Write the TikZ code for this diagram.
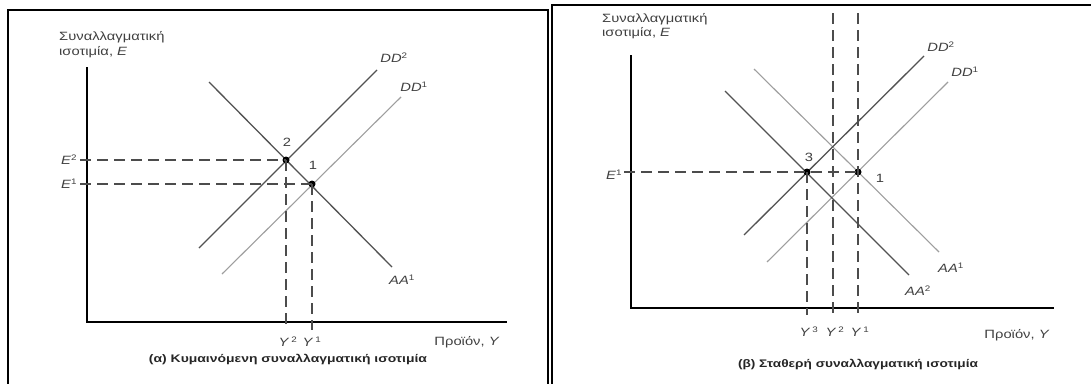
\documentclass[tikz,border=0pt]{standalone}
\usepackage{graphicx}
\usepackage{fontspec}
\setmainfont{Liberation Sans}[FakeStretch=1.23]
\newfontfamily\capfont{Liberation Sans}
\newcommand{\capwide}[2]{\resizebox{#1}{\height}{\capfont\bfseries #2}}
\begin{document}
\begin{tikzpicture}[x=1pt,y=-1pt,
  frame/.style={line width=2.4pt,black},
  axis/.style={line width=2pt,black},
  darkline/.style={line width=1.3pt,draw=black!68},
  lightline/.style={line width=1.1pt,draw=black!38},
  guide/.style={line width=1.2pt,draw=black!70,dash pattern=on 11pt off 6pt},
  dot/.style={circle,fill=black,inner sep=0pt,minimum size=7pt},
  lbl/.style={font=\fontsize{12}{14}\selectfont,text=black!75,inner sep=0pt},
  captxt/.style={font=\fontsize{11}{13}\selectfont,text=black!85,inner sep=0pt}]
\useasboundingbox (0,0) rectangle (1091,383);
\fill[white] (0,0) rectangle (1091,383);
% frames
\draw[frame] (8,384) -- (8,10) -- (548,10) -- (548,384);
\draw[frame] (552,384) -- (552,5) -- (1092,5);

% ---------- panel (a) ----------
\coordinate (aO) at (87,322);
\coordinate (aYt) at (87,67);
\coordinate (aXr) at (507,322);
\draw[axis] (aYt) -- (aO) -- (aXr);
\coordinate (aD2s) at (199,248); \coordinate (aD2e) at (377,70);
\coordinate (aD1s) at (222,274); \coordinate (aD1e) at (401,97);
\coordinate (aA1s) at (209,82);  \coordinate (aA1e) at (392,267);
\draw[lightline] (aD1s) -- (aD1e);
\draw[darkline] (aD2s) -- (aD2e);
\draw[darkline] (aA1s) -- (aA1e);
\node[dot] (p2) at (286,160) {};
\node[dot] (p1) at (312,184) {};
\coordinate (aE2l) at (80,160); \coordinate (aE1l) at (80,184);
\coordinate (aY2b) at (286,330); \coordinate (aY1b) at (312,330);
\draw[guide] (aE2l) -- (p2.center);
\draw[guide] (aE1l) -- (p1.center);
\draw[guide] (p2.center) -- (aY2b);
\draw[guide] (p1.center) -- (aY1b);
\node[lbl,anchor=west] (atitle1) at (59,37) {Συναλλαγματική};
\node[lbl,anchor=west] (atitle2) at (59,52) {ισοτιμία, \textit{E}};
\node[lbl] (aE2) at (69,160) {\textit{E}\textsuperscript{2}};
\node[lbl] (aE1) at (69,184) {\textit{E}\textsuperscript{1}};
\node[lbl] (aY2) at (288,342) {\textit{Y}\,\textsuperscript{2}};
\node[lbl] (aY1) at (312,342) {\textit{Y}\,\textsuperscript{1}};
\node[lbl] (aXlab) at (467,342) {Προϊόν, \textit{Y}};
\node[lbl] (aDD2) at (394,58) {\textit{DD}\textsuperscript{2}};
\node[lbl] (aDD1) at (414,87) {\textit{DD}\textsuperscript{1}};
\node[lbl] (aAA1) at (402,280) {\textit{AA}\textsuperscript{1}};
\node[lbl] (an2) at (287,142) {2};
\node[lbl] (an1) at (313,165) {1};
\node[captxt] (acap) at (288,360) {\capwide{278pt}{(α) Κυμαινόμενη συναλλαγματική ισοτιμία}};

% ---------- panel (b) ----------
\coordinate (bO) at (631,308);
\coordinate (bYt) at (631,55);
\coordinate (bXr) at (1054,308);
\draw[axis] (bYt) -- (bO) -- (bXr);
\coordinate (bD2s) at (744,235); \coordinate (bD2e) at (924,56);
\coordinate (bD1s) at (767,262); \coordinate (bD1e) at (948,82);
\coordinate (bA1s) at (754,69);  \coordinate (bA1e) at (939,252);
\coordinate (bA2s) at (725,91);  \coordinate (bA2e) at (909,275);
\draw[lightline] (bD1s) -- (bD1e);
\draw[lightline] (bA1s) -- (bA1e);
\draw[darkline] (bD2s) -- (bD2e);
\draw[darkline] (bA2s) -- (bA2e);
\node[dot] (p3) at (807,172) {};
\node[dot] (q1) at (858,172) {};
\coordinate (bE1l) at (624,172);
\coordinate (bY3b) at (807,315);
\coordinate (bY2t) at (833,13); \coordinate (bY2b) at (833,315);
\coordinate (bY1t) at (858,13); \coordinate (bY1b) at (858,315);
\draw[guide] (bE1l) -- (q1.center);
\draw[guide] (p3.center) -- (bY3b);
\draw[guide] (bY2t) -- (bY2b);
\draw[guide] (bY1t) -- (bY1b);
\node[lbl,anchor=west] (btitle1) at (602,19) {Συναλλαγματική};
\node[lbl,anchor=west] (btitle2) at (602,33) {ισοτιμία, \textit{E}};
\node[lbl] (bE1) at (614,175) {\textit{E}\textsuperscript{1}};
\node[lbl] (bY3) at (809,332) {\textit{Y}\,\textsuperscript{3}};
\node[lbl] (bY2) at (835,332) {\textit{Y}\,\textsuperscript{2}};
\node[lbl] (bY1) at (860,332) {\textit{Y}\,\textsuperscript{1}};
\node[lbl] (bXlab) at (1017,335) {Προϊόν, \textit{Y}};
\node[lbl] (bDD2) at (941,47) {\textit{DD}\textsuperscript{2}};
\node[lbl] (bDD1) at (965,72) {\textit{DD}\textsuperscript{1}};
\node[lbl] (bAA1) at (951,268) {\textit{AA}\textsuperscript{1}};
\node[lbl] (bAA2) at (918,291) {\textit{AA}\textsuperscript{2}};
\node[lbl] (bn3) at (809,157) {3};
\node[lbl] (bn1) at (880,178) {1};
\node[captxt] (bcap) at (858,365) {\capwide{240pt}{(β) Σταθερή συναλλαγματική ισοτιμία}};
\end{tikzpicture}
\end{document}
